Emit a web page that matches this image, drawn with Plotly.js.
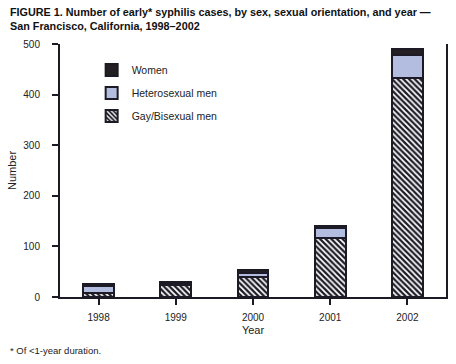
<!DOCTYPE html>
<html>
<head>
<meta charset="utf-8">
<script src="https://cdn.plot.ly/plotly-3.0.1.min.js"></script>
<style>html,body{margin:0;padding:0;background:#fff;}#chart{width:456px;height:364px;}</style>
</head>
<body>
<div id="chart"></div>
<script>
const years = ['1998', '1999', '2000', '2001', '2002'];
const gayBisexualMen = [7, 23, 40, 116, 432];
const heterosexualMen = [15, 3, 8, 20, 47];
const women = [4, 4, 5, 4, 11];
const yTicks = [0, 100, 200, 300, 400, 500];

const outline = {color: '#1c1a24', width: 2};
const font = 'Liberation Sans, Arial, sans-serif';

const traces = [
  {type: 'bar', name: 'Gay/Bisexual men', legendgroup: 'g', legendrank: 3, x: years, y: gayBisexualMen,
   marker: {color: '#1c1a24', line: outline,
            pattern: {shape: '\\', bgcolor: '#1c1a24', fgcolor: '#ffffff', size: 4, solidity: 0.45, fillmode: 'replace'}}},
  {type: 'bar', name: 'Heterosexual men', legendgroup: 'h', legendrank: 2, x: years, y: heterosexualMen,
   marker: {color: '#b3bde0', line: outline}},
  {type: 'bar', name: 'Women', legendgroup: 'w', legendrank: 1, x: years, y: women,
   marker: {color: '#231f22', line: outline}}
];

const layout = {
  width: 456, height: 364,
  margin: {l: 60, r: 10, t: 44, b: 67},
  paper_bgcolor: '#ffffff', plot_bgcolor: '#ffffff',
  barmode: 'stack', bargap: 0.6,
  showlegend: true,
  hovermode: false,
  font: {family: font, size: 10, color: '#222'},
  legend: {
    x: 0.082, y: 0.955, xanchor: 'left', yanchor: 'top',
    traceorder: 'grouped', bgcolor: 'rgba(0,0,0,0)',
    font: {family: font, size: 10.5, color: '#222'},
    tracegroupgap: 4, itemwidth: 30
  },
  xaxis: {
    type: 'category', showline: true, linecolor: '#1c1a24', linewidth: 1.5,
    ticks: 'outside', ticklen: 6, tickwidth: 2, tickcolor: '#1c1a24',
    showgrid: false, zeroline: false, ticklabelstandoff: 4,
    tickfont: {family: font, size: 10, color: '#222'},
    title: {text: 'Year', font: {family: font, size: 11, color: '#222'}, standoff: 5}
  },
  yaxis: {
    range: [0, 500], tickvals: yTicks, ticktext: yTicks.map(String),
    showline: true, mirror: true, linecolor: '#1c1a24', linewidth: 2,
    ticks: 'outside', ticklen: 6, tickwidth: 2, tickcolor: '#1c1a24',
    showgrid: false, zeroline: false, ticklabelstandoff: 10,
    tickfont: {family: font, size: 10, color: '#222'},
    title: {text: 'Number', font: {family: font, size: 11, color: '#222'}, standoff: 4}
  },
  annotations: [
    {text: '<b>FIGURE 1. Number of early* syphilis cases, by sex, sexual orientation, and year —<br>San Francisco, California, 1998–2002</b>',
     xref: 'paper', yref: 'paper', x: -0.135, y: 1.158, xanchor: 'left', yanchor: 'top', align: 'left',
     showarrow: false, font: {family: font, size: 10.8, color: '#111'}},
    {text: '* Of <1-year duration.', xref: 'paper', yref: 'paper', x: -0.135, y: -0.21,
     xanchor: 'left', yanchor: 'middle', showarrow: false,
     font: {family: font, size: 9.5, color: '#222'}}
  ]
};

Plotly.newPlot('chart', traces, layout, {displayModeBar: false, staticPlot: true});
</script>
</body>
</html>
